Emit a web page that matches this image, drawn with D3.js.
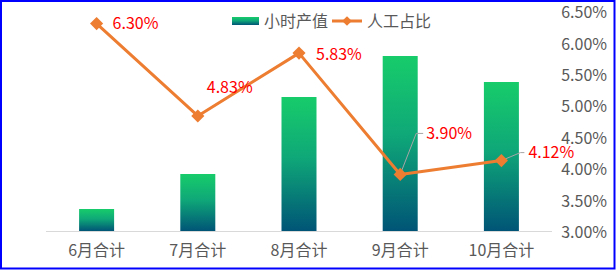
<!DOCTYPE html>
<meta charset="utf-8">
<style>
html, body {
    margin: 0;
    background: white;
}
svg text {
    font-family: "Noto Sans CJK SC", "Noto Sans", sans-serif;
}
</style>
<body>
<script src="https://cdn.jsdelivr.net/npm/d3@7/dist/d3.min.js"></script>
<script>

var months = ["6月合计", "7月合计", "8月合计", "9月合计", "10月合计"];
var hourValue = [22, 57, 134, 175, 149];
var laborRatio = [0.0630, 0.0483, 0.0583, 0.0390, 0.0412];
var ratioTicks = [0.03, 0.035, 0.04, 0.045, 0.05, 0.055, 0.06, 0.065];

// label placement relative to the point: dx, dy, and optional leader end
var labelPos = [
    {dx: 16, dy: 0},
    {dx: 9, dy: -29, lead: [28, -18]},
    {dx: 17, dy: 1},
    {dx: 26, dy: -41, lead: [[16, -41], [23, -41]]},
    {dx: 27, dy: -8, lead: [[19, -8], [23, -8]]}
];

var width = 616,
    height = 270;

var svg = d3.select("body").append("svg")
    .attr("width", width)
    .attr("height", height);

var defs = svg.append("defs");
var grad = defs.append("linearGradient")
    .attr("id", "barGrad")
    .attr("x1", 0).attr("y1", 0).attr("x2", 0).attr("y2", 1);
grad.append("stop").attr("offset", "0%").attr("stop-color", "#17cc6a");
grad.append("stop").attr("offset", "45%").attr("stop-color", "#0fa878");
grad.append("stop").attr("offset", "100%").attr("stop-color", "#005476");

svg.append("rect")
    .attr("x", 1).attr("y", 1)
    .attr("width", width - 2.5).attr("height", height - 2.5)
    .attr("fill", "none")
    .attr("stroke", "#0000ff")
    .attr("stroke-width", 2);

var x = d3.scaleBand()
    .domain(months)
    .range([46, 552]);

var yBar = d3.scaleLinear().domain([0, 220]).range([231, 11]);
var yRatio = d3.scaleLinear().domain([0.03, 0.065]).range([231, 11]);

var barW = 35;

svg.append("g")
  .selectAll("rect")
    .data(hourValue)
  .enter().append("rect")
    .attr("x", (d, i) => x(months[i]) + x.bandwidth() / 2 - barW / 2)
    .attr("y", d => yBar(d))
    .attr("width", barW)
    .attr("height", d => yBar(0) - yBar(d))
    .attr("fill", "url(#barGrad)");

// baseline
svg.append("line")
    .attr("x1", 46).attr("x2", 552)
    .attr("y1", 231.5).attr("y2", 231.5)
    .attr("stroke", "#d9d9d9")
    .attr("stroke-width", 1);

// category axis
var xAxis = svg.append("g")
    .attr("transform", "translate(0,231)")
    .call(d3.axisBottom(x).tickSize(0).tickPadding(14));
xAxis.select(".domain").remove();
xAxis.selectAll("text")
    .attr("fill", "#595959")
    .style("font-size", "16px");

// right axis
var yAxis = svg.append("g")
    .attr("transform", "translate(607,1.5)")
    .call(d3.axisLeft(yRatio).tickValues(ratioTicks).tickSize(0).tickPadding(0)
        .tickFormat(d3.format(".2%")));
yAxis.select(".domain").remove();
yAxis.selectAll("text")
    .attr("fill", "#595959")
    .style("font-size", "16px");

var cx = (d, i) => x(months[i]) + x.bandwidth() / 2;

// leader lines
var leaders = svg.append("g");
laborRatio.forEach(function(d, i) {
    var p = labelPos[i];
    if (!p.lead) return;
    var px = cx(d, i), py = yRatio(d);
    var pts = Array.isArray(p.lead[0]) ? p.lead : [p.lead];
    var coords = [[px, py]].concat(pts.map(q => [px + q[0], py + q[1]]));
    leaders.append("path")
        .attr("d", d3.line()(coords))
        .attr("fill", "none")
        .attr("stroke", "#a6a6a6")
        .attr("stroke-width", 1);
});

svg.append("path")
    .datum(laborRatio)
    .attr("d", d3.line().x(cx).y(d => yRatio(d)))
    .attr("fill", "none")
    .attr("stroke", "#ed7d31")
    .attr("stroke-width", 3)
    .attr("stroke-linejoin", "round");

svg.append("g")
  .selectAll("path")
    .data(laborRatio)
  .enter().append("path")
    .attr("transform", (d, i) => "translate(" + cx(d, i) + "," + yRatio(d) + ")")
    .attr("d", d3.symbol().type(d3.symbolDiamond2).size(110))
    .attr("fill", "#ed7d31");

svg.append("g")
  .selectAll("text")
    .data(laborRatio)
  .enter().append("text")
    .attr("x", (d, i) => cx(d, i) + labelPos[i].dx)
    .attr("y", (d, i) => yRatio(d) + labelPos[i].dy)
    .attr("dy", "0.35em")
    .attr("fill", "#ff0000")
    .style("font-size", "16px")
    .text(d3.format(".2%"));

// legend
var legend = svg.append("g");
legend.append("rect")
    .attr("x", 232).attr("y", 17)
    .attr("width", 27).attr("height", 8)
    .attr("fill", "url(#barGrad)");
legend.append("text")
    .attr("x", 264).attr("y", 21).attr("dy", "0.35em")
    .attr("fill", "#595959")
    .style("font-size", "16px")
    .text("小时产值");
legend.append("line")
    .attr("x1", 332).attr("x2", 362)
    .attr("y1", 21).attr("y2", 21)
    .attr("stroke", "#ed7d31")
    .attr("stroke-width", 3);
legend.append("path")
    .attr("transform", "translate(347,21)")
    .attr("d", d3.symbol().type(d3.symbolDiamond2).size(60))
    .attr("fill", "#ed7d31");
legend.append("text")
    .attr("x", 367).attr("y", 21).attr("dy", "0.35em")
    .attr("fill", "#595959")
    .style("font-size", "16px")
    .text("人工占比");

</script>
